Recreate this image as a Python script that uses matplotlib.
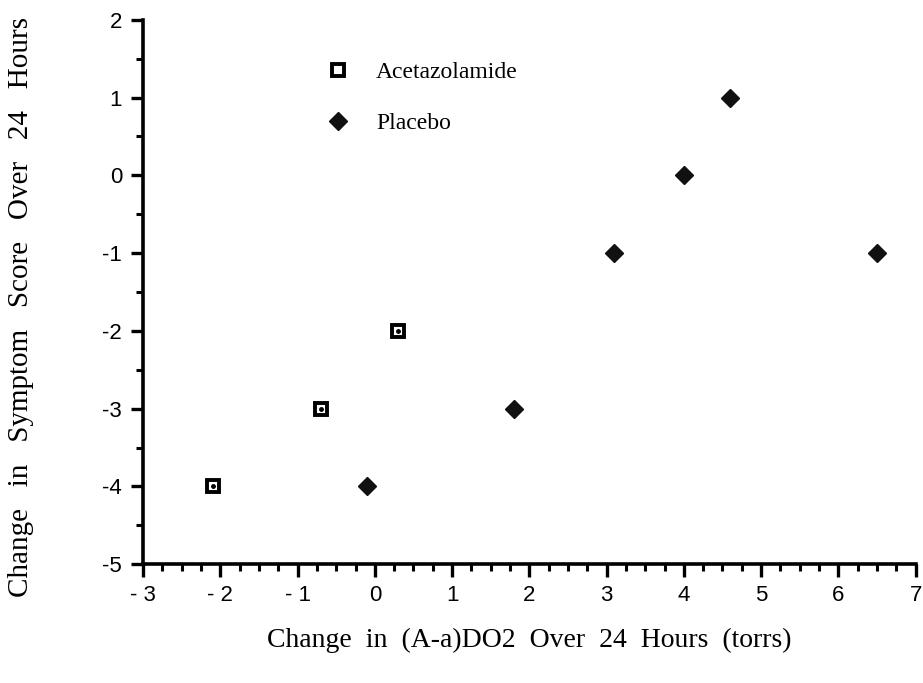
import matplotlib
matplotlib.use('Agg')
import matplotlib.pyplot as plt
from matplotlib.ticker import MultipleLocator

# change in (A-a)DO2 vs change in symptom score
aceta_x = [-2.1, -0.7, 0.3]
aceta_y = [-4, -3, -2]
placebo_x = [-0.1, 1.8, 3.1, 4.0, 4.6, 6.5]
placebo_y = [-4, -3, -1, 0, 1, -1]

xticks = [-3, -2, -1, 0, 1, 2, 3, 4, 5, 6, 7]
xticklabels = ['- 3', '- 2', '- 1', '0', '1', '2', '3', '4', '5', '6', '7']
yticks = [-5, -4, -3, -2, -1, 0, 1, 2]
yticklabels = ['-5', '-4', '-3', '-2', '-1', '0', '1', '2']

serif = ['Liberation Serif', 'DejaVu Serif']
sans = ['Liberation Sans', 'DejaVu Sans']

fig = plt.figure(figsize=(9.23, 6.83), dpi=100)
ax = fig.add_axes([0.155, 0.174, 0.837, 0.797])

ax.plot(aceta_x, aceta_y, ls='none', marker='s', ms=9, mfc='white',
        mec='black', mew=2.8, label='Acetazolamide', zorder=3)
ax.plot(aceta_x, aceta_y, ls='none', marker='o', ms=2.5, mfc='black',
        mec='black', zorder=4)
ax.plot(placebo_x, placebo_y, ls='none', marker='D', ms=9.5, mfc='#111111',
        mec='#111111', label='Placebo', zorder=3)

ax.set_xlim(-3, 7)
ax.set_ylim(-5, 2)
ax.set_xticks(xticks)
ax.set_xticklabels(xticklabels)
ax.set_yticks(yticks)
ax.set_yticklabels(yticklabels)
for lab in ax.get_xticklabels() + ax.get_yticklabels():
    lab.set_family(sans)
    lab.set_fontsize(16)
ax.xaxis.set_minor_locator(MultipleLocator(0.25))
ax.yaxis.set_minor_locator(MultipleLocator(0.5))

ax.tick_params(which='major', direction='out', length=9, width=2.4, pad=6)
ax.tick_params(which='minor', direction='out', length=5, width=2.2)

for side in ['top', 'right']:
    ax.spines[side].set_visible(False)
for side in ['left', 'bottom']:
    ax.spines[side].set_linewidth(2.6)

ax.set_xlabel('Change  in  (A-a)DO2  Over  24  Hours  (torrs)',
              family=serif, fontsize=20, labelpad=16)
ax.set_ylabel('Change   in   Symptom   Score   Over   24   Hours',
              family=serif, fontsize=21)
ax.yaxis.set_label_coords(-0.141, 0.472)

# stacked key in the upper left area
ax.legend(loc='upper left', bbox_to_anchor=(0.21, 0.94), frameon=False,
          prop={'family': serif, 'size': 17}, labelspacing=1.25,
          handletextpad=0.6, borderaxespad=0)

fig.savefig('out.png', dpi=100)
